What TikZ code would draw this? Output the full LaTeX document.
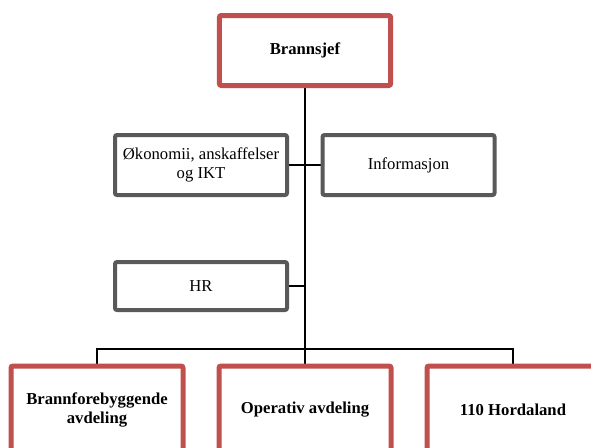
\documentclass[tikz,border=0pt]{standalone}
\usepackage{fontspec}
\setmainfont{Liberation Serif}
\usetikzlibrary{backgrounds}
\definecolor{chiefred}{HTML}{C0504D}
\definecolor{staffgrey}{HTML}{595959}

\begin{document}
\begin{tikzpicture}[x=0.75pt, y=-0.75pt,
  chief/.style={rectangle, draw=chiefred, line width=3.75pt, rounded corners=1.5pt,
                minimum width=128.5pt, minimum height=52.5pt, align=center, fill=white,
                font=\fontsize{12.5}{14}\selectfont\bfseries},
  staff/.style={rectangle, draw=staffgrey, line width=3pt, rounded corners=1.5pt,
                minimum width=129pt, minimum height=45pt, align=center, fill=white,
                font=\fontsize{12.5}{14}\selectfont},
  dept/.style={chief, minimum width=129pt, minimum height=66pt},
  trunk/.style={line width=1.9pt},
  branch/.style={line width=1.1pt}]
  \useasboundingbox (0,0) rectangle (591,447);
  \clip (0,0) rectangle (591,447);
  \node[chief] (chief) at (305,50.5) {Brannsjef};
  \node[staff] (econ) at (201,165) {Økonomii, anskaffelser\\og IKT};
  \node[staff] (info) at (408.5,165) {Informasjon};
  \node[staff, minimum height=36pt] (hr) at (201,286) {HR};
  \node[dept] (prev) at (97,410) {Brannforebyggende\\avdeling};
  \node[dept] (ops) at (305,410) {Operativ avdeling};
  \node[dept] (hord) at (513,410) {110 Hordaland};
  \coordinate (split) at (305,349);
  \begin{pgfonlayer}{background}
    \draw[trunk] (chief.south) -- (split);
    \draw[trunk] (econ.east) -- (info.west);
    \draw[trunk] (hr.east) -- (hr.east -| split);
    \draw[branch] (prev.north) |- (split) -| (hord.north);
    \draw[branch] (split) -- (ops.north);
  \end{pgfonlayer}
\end{tikzpicture}
\end{document}
